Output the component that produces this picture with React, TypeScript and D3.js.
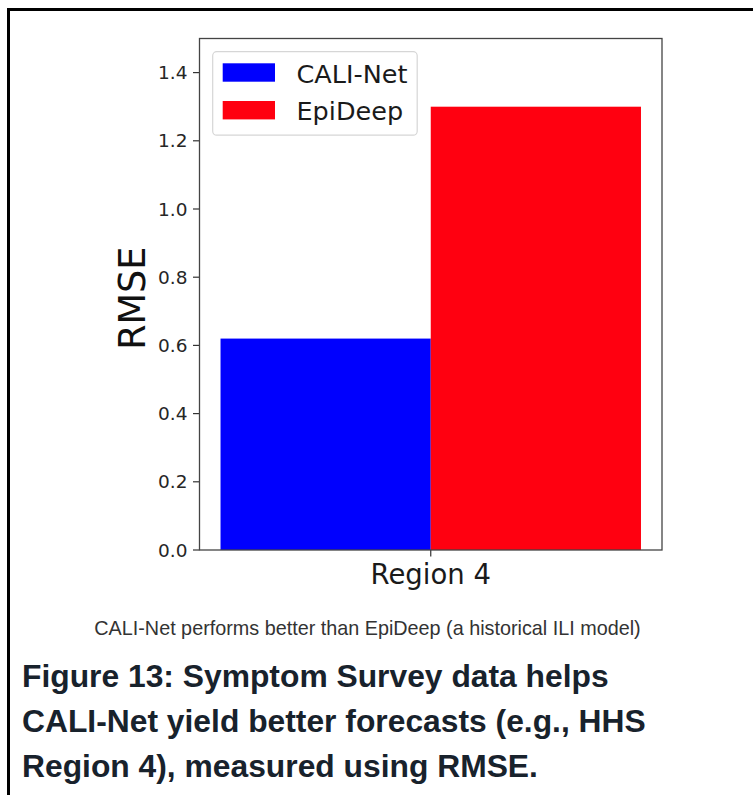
import React, { useEffect, useRef } from "react";
import * as d3 from "d3";

// Chart data
const categories = ["Region 4"];
const seriesNames = ["CALI-Net", "EpiDeep"];
const seriesColors = ["#0000fe", "#ff0010"];
const rmseValues = [0.62, 1.3];
const yTicks = [0.0, 0.2, 0.4, 0.6, 0.8, 1.0, 1.2, 1.4];
const subCaption = "CALI-Net performs better than EpiDeep (a historical ILI model)";
const figureCaption = [
  "Figure 13: Symptom Survey data helps",
  "CALI-Net yield better forecasts (e.g., HHS",
  "Region 4), measured using RMSE.",
];

const W = 753;
const H = 795;
const plot = { left: 199.5, right: 662, top: 38.5, bottom: 550 };
const barWidth = 0.35;

export default function App() {
  const ref = useRef<SVGSVGElement | null>(null);

  useEffect(() => {
    const svg = d3.select(ref.current);
    svg.selectAll("*").remove();

    svg.append("rect").attr("width", W).attr("height", H).attr("fill", "#fff");

    // frame around the figure
    svg
      .append("path")
      .attr("d", `M8.5,${H} L8.5,9.5 L${W},9.5`)
      .attr("fill", "none")
      .attr("stroke", "#000")
      .attr("stroke-width", 3);

    const n = rmseValues.length;
    const span = (n / 2) * barWidth;
    const x = d3
      .scaleLinear()
      .domain([-span * 1.1, span * 1.1])
      .range([plot.left, plot.right]);
    const y = d3.scaleLinear().domain([0, 1.5]).range([plot.bottom, plot.top]);

    const g = svg.append("g");

    // bars
    g.selectAll("rect.bar")
      .data(rmseValues)
      .join("rect")
      .attr("class", "bar")
      .attr("x", (_, i) => x(-span + i * barWidth))
      .attr("width", x(barWidth) - x(0))
      .attr("y", (d) => y(d))
      .attr("height", (d) => y(0) - y(d))
      .attr("fill", (_, i) => seriesColors[i]);

    // y axis ticks
    const fontChart = "'DejaVu Sans', sans-serif";
    const yt = g.append("g");
    yTicks.forEach((t) => {
      yt.append("line")
        .attr("x1", plot.left - 6.5)
        .attr("x2", plot.left)
        .attr("y1", y(t))
        .attr("y2", y(t))
        .attr("stroke", "#333")
        .attr("stroke-width", 1.2);
      yt.append("text")
        .attr("x", plot.left - 12)
        .attr("y", y(t))
        .attr("dy", "0.36em")
        .attr("text-anchor", "end")
        .attr("font-family", fontChart)
        .attr("font-size", 18.5)
        .attr("fill", "#262626")
        .text(t.toFixed(1));
    });

    // x tick
    categories.forEach((c) => {
      g.append("line")
        .attr("x1", x(0))
        .attr("x2", x(0))
        .attr("y1", plot.bottom)
        .attr("y2", plot.bottom + 6.5)
        .attr("stroke", "#333")
        .attr("stroke-width", 1.2);
      g.append("text")
        .attr("x", x(0))
        .attr("y", 584)
        .attr("text-anchor", "middle")
        .attr("font-family", fontChart)
        .attr("font-size", 27.5)
        .attr("fill", "#1a1a1a")
        .text(c);
    });

    // y label
    g.append("text")
      .attr("transform", `translate(145,${(plot.top + plot.bottom) / 2 + 4}) rotate(-90)`)
      .attr("text-anchor", "middle")
      .attr("font-family", fontChart)
      .attr("font-size", 36.5)
      .attr("fill", "#111")
      .text("RMSE");

    // spines
    g.append("rect")
      .attr("x", plot.left)
      .attr("y", plot.top)
      .attr("width", plot.right - plot.left)
      .attr("height", plot.bottom - plot.top)
      .attr("fill", "none")
      .attr("stroke", "#444")
      .attr("stroke-width", 1.3);

    // legend
    const leg = g.append("g");
    leg.append("rect")
      .attr("x", 212.7)
      .attr("y", 51.7)
      .attr("width", 204.5)
      .attr("height", 83.5)
      .attr("rx", 4)
      .attr("fill", "#fff")
      .attr("fill-opacity", 0.85)
      .attr("stroke", "#d6d6d6")
      .attr("stroke-width", 1.2);
    seriesNames.forEach((name, i) => {
      const cy = 72.5 + i * 37.7;
      leg.append("rect")
        .attr("x", 222.7)
        .attr("y", cy - 9.2)
        .attr("width", 52.3)
        .attr("height", 18.4)
        .attr("fill", seriesColors[i]);
      leg.append("text")
        .attr("x", 296.5)
        .attr("y", cy + 10)
        .attr("font-family", fontChart)
        .attr("font-size", 25.5)
        .attr("fill", "#1a1a1a")
        .text(name);
    });

    // captions
    svg.append("text")
      .attr("x", 367.5)
      .attr("y", 635)
      .attr("text-anchor", "middle")
      .attr("font-family", "'Liberation Sans', Arial, sans-serif")
      .attr("font-size", 19.8)
      .attr("fill", "#333")
      .text(subCaption);

    figureCaption.forEach((line, i) => {
      svg.append("text")
        .attr("x", 22)
        .attr("y", 687 + i * 45)
        .attr("font-family", "'Liberation Sans', Arial, sans-serif")
        .attr("font-weight", "bold")
        .attr("font-size", 31.8)
        .attr("fill", "#18222c")
        .text(line);
    });
  }, []);

  return (
    <svg
      ref={ref}
      width={W}
      height={H}
      style={{ position: "absolute", left: 0, top: 0, display: "block" }}
    />
  );
}
